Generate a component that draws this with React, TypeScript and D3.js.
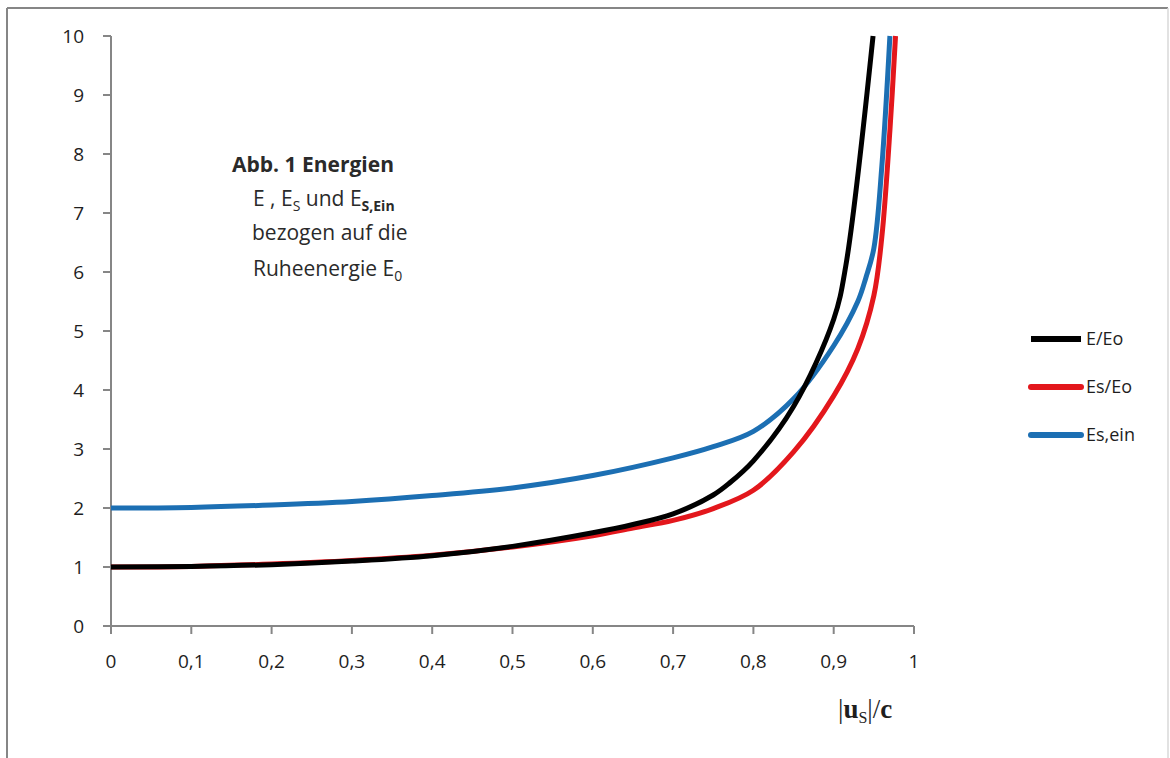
import React, {useEffect, useRef} from 'react'
import * as d3 from 'd3'

// velocity |u_S|/c at which each value was read
const vE = [0, 0.1, 0.2, 0.3, 0.4, 0.5, 0.6, 0.65, 0.7, 0.75, 0.77, 0.8, 0.85, 0.9, 0.915, 0.949]
const eE = [1, 1.01, 1.04, 1.1, 1.19, 1.35, 1.58, 1.72, 1.9, 2.22, 2.42, 2.8, 3.72, 5.2, 6.1, 10]

const vEs = [0, 0.1, 0.2, 0.3, 0.4, 0.5, 0.6, 0.65, 0.7, 0.75, 0.8, 0.85, 0.9, 0.93, 0.95, 0.96, 0.97, 0.977]
const eEs = [1, 1.01, 1.05, 1.11, 1.2, 1.34, 1.53, 1.66, 1.79, 1.99, 2.3, 2.95, 3.9, 4.7, 5.6, 6.6, 8.4, 10]

const vEin = [0, 0.1, 0.2, 0.3, 0.4, 0.5, 0.6, 0.7, 0.75, 0.8, 0.85, 0.9, 0.93, 0.94, 0.95, 0.96, 0.97]
const eEin = [2, 2.01, 2.05, 2.11, 2.21, 2.34, 2.55, 2.85, 3.04, 3.3, 3.85, 4.75, 5.5, 5.9, 6.4, 7.8, 10]

const seriesNames = ['E/Eo', 'Es/Eo', 'Es,ein']
const seriesColors = ['#000000', '#e3171c', '#1c6fb3']

const xTicks = [0, 0.1, 0.2, 0.3, 0.4, 0.5, 0.6, 0.7, 0.8, 0.9, 1]
const yTicks = [0, 1, 2, 3, 4, 5, 6, 7, 8, 9, 10]

const W = 1170
const H = 758
const font = '"Open Sans", sans-serif'

export default function App () {
  const ref = useRef<SVGSVGElement>(null)

  useEffect(() => {
    const svg = d3.select(ref.current)
    svg.selectAll('*').remove()

    const x = d3.scaleLinear().domain([0, 1]).range([111, 914])
    const y = d3.scaleLinear().domain([0, 10]).range([626, 36])
    const axisColor = '#868686'

    // frame (top and left visible, right edge faint)
    svg.append('line').attr('x1', 7).attr('x2', 1168).attr('y1', 8).attr('y2', 8)
      .attr('stroke', axisColor).attr('stroke-width', 2)
    svg.append('line').attr('x1', 7).attr('x2', 7).attr('y1', 8).attr('y2', H)
      .attr('stroke', axisColor).attr('stroke-width', 2)
    svg.append('line').attr('x1', 1168).attr('x2', 1168).attr('y1', 8).attr('y2', H)
      .attr('stroke', '#d8d8d8').attr('stroke-width', 1.5)

    // y axis
    svg.append('line').attr('x1', x(0)).attr('x2', x(0)).attr('y1', y(10)).attr('y2', y(0))
      .attr('stroke', axisColor).attr('stroke-width', 2)
    const yg = svg.append('g')
    yTicks.forEach(t => {
      yg.append('line').attr('x1', x(0) - 8).attr('x2', x(0)).attr('y1', y(t)).attr('y2', y(t))
        .attr('stroke', axisColor).attr('stroke-width', 2)
      yg.append('text').attr('x', 84).attr('y', y(t) + 7).attr('text-anchor', 'end')
        .attr('font-family', font).attr('font-size', 19).attr('fill', '#1e1e1e').text(String(t))
    })

    // x axis
    svg.append('line').attr('x1', x(0) - 8).attr('x2', x(1)).attr('y1', y(0)).attr('y2', y(0))
      .attr('stroke', axisColor).attr('stroke-width', 2)
    const xg = svg.append('g')
    xTicks.forEach(t => {
      xg.append('line').attr('x1', x(t)).attr('x2', x(t)).attr('y1', y(0)).attr('y2', y(0) + 8)
        .attr('stroke', axisColor).attr('stroke-width', 2)
      xg.append('text').attr('x', x(t)).attr('y', 668).attr('text-anchor', 'middle')
        .attr('font-family', font).attr('font-size', 19).attr('fill', '#1e1e1e')
        .text(String(t).replace('.', ','))
    })

    // curves, smoothed like the spreadsheet did
    const line = d3.line<[number, number]>().x(d => x(d[0])).y(d => y(d[1])).curve(d3.curveCatmullRom.alpha(0.5))
    const data: [number, number][][] = [
      vEin.map((v, i) => [v, eEin[i]]),
      vEs.map((v, i) => [v, eEs[i]]),
      vE.map((v, i) => [v, eE[i]])
    ]
    const order = [2, 1, 0]
    data.forEach((d, k) => {
      svg.append('path').attr('d', line(d)).attr('fill', 'none')
        .attr('stroke', seriesColors[order[k]]).attr('stroke-width', 5)
    })

    // legend
    const lg = svg.append('g')
    seriesNames.forEach((n, i) => {
      const ly = 339 + i * 48
      lg.append('line').attr('x1', 1031).attr('x2', 1081).attr('y1', ly).attr('y2', ly)
        .attr('stroke', seriesColors[i]).attr('stroke-width', 6).attr('stroke-linecap', i === 0 ? 'butt' : 'round')
      lg.append('text').attr('x', 1086).attr('y', ly + 6).attr('font-family', font)
        .attr('font-size', 18).attr('fill', '#1e1e1e').text(n)
    })

    // annotation
    const ann = svg.append('g').attr('font-family', font).attr('fill', '#2a2a2a')
    const t1 = ann.append('text').attr('x', 232).attr('y', 172).attr('font-size', 21).attr('font-weight', 'bold')
    t1.append('tspan').text('Abb. 1 ')
    t1.append('tspan').text('Energien')
    const t2 = ann.append('text').attr('x', 253).attr('y', 206).attr('font-size', 21)
    t2.append('tspan').text('E , E')
    t2.append('tspan').attr('font-size', 14).attr('dy', 5).text('S')
    t2.append('tspan').attr('dy', -5).text(' und E')
    t2.append('tspan').attr('font-size', 14).attr('font-weight', 'bold').attr('dy', 5).text('S,Ein')
    ann.append('text').attr('x', 252).attr('y', 240).attr('font-size', 21).text('bezogen auf die')
    const t4 = ann.append('text').attr('x', 253).attr('y', 276).attr('font-size', 21)
    t4.append('tspan').text('Ruheenergie E')
    t4.append('tspan').attr('font-size', 14).attr('dy', 5).text('0')

    // x axis title
    const xt = svg.append('text').attr('x', 838).attr('y', 718).attr('font-family', '"Liberation Serif", serif')
      .attr('font-size', 27).attr('fill', '#1e1e1e')
    xt.append('tspan').text('|')
    xt.append('tspan').attr('font-weight', 'bold').text('u')
    xt.append('tspan').attr('font-size', 16).attr('dy', 5).text('S')
    xt.append('tspan').attr('dy', -5).text('|/')
    xt.append('tspan').attr('font-weight', 'bold').text('c')
  }, [])

  return (
    <div style={{position: 'absolute', left: 0, top: 0}}>
      <svg ref={ref} width={W} height={H} style={{display: 'block', background: 'white'}} />
    </div>
  )
}
